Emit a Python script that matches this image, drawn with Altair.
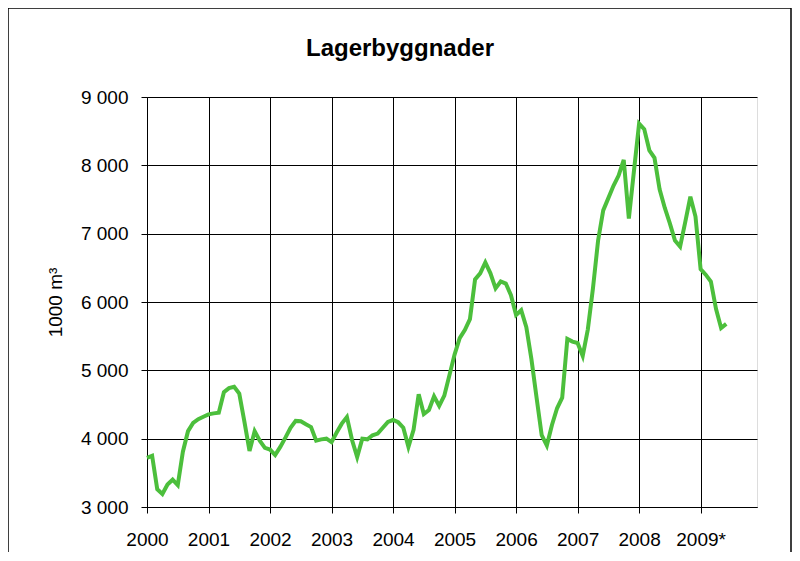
import altair as alt
import pandas as pd

years = [2000, 2001, 2002, 2003, 2004, 2005, 2006, 2007, 2008, 2009]
year_labels = ["2000", "2001", "2002", "2003", "2004", "2005", "2006", "2007", "2008", "2009*"]

v2000 = [3720, 3750, 3260, 3190, 3330, 3400, 3320, 3810, 4110, 4230, 4285, 4320]
v2001 = [4355, 4370, 4380, 4680, 4740, 4760, 4660, 4250, 3820, 4110, 3970, 3865]
v2002 = [3840, 3760, 3880, 4015, 4160, 4260, 4255, 4210, 4170, 3970, 3990, 4000]
v2003 = [3950, 4090, 4220, 4317, 3980, 3730, 4000, 3990, 4050, 4075, 4160, 4245]
v2004 = [4273, 4240, 4160, 3880, 4130, 4650, 4360, 4420, 4620, 4480, 4630, 4930]
v2005 = [5230, 5470, 5590, 5750, 6330, 6420, 6580, 6420, 6200, 6300, 6270, 6100]
v2006 = [5810, 5880, 5630, 5160, 4600, 4050, 3900, 4200, 4445, 4600, 5460, 5420]
v2007 = [5400, 5210, 5600, 6200, 6900, 7340, 7520, 7700, 7850, 8080, 7220, 7920]
v2008 = [8610, 8530, 8220, 8110, 7650, 7380, 7150, 6900, 6810, 7170, 7540, 7250]
v2009 = [6480, 6400, 6300, 5900, 5620, 5680]

y_ticks = [3000, 4000, 5000, 6000, 7000, 8000, 9000]
title_text = "Lagerbyggnader"

series = [v2000, v2001, v2002, v2003, v2004, v2005, v2006, v2007, v2008, v2009]
rows = []
for yr, vals in zip(years, series):
    for m, v in enumerate(vals):
        rows.append({"t": yr + m / 12.0, "v": v})
df = pd.DataFrame(rows)

label_map = "{" + ",".join(f"'{y}':'{l}'" for y, l in zip(years, year_labels)) + "}"

FONT = "Liberation Sans"

x_axis = alt.Axis(
    values=years,
    labelExpr=f"{label_map}[toString(datum.value)]",
    title=None,
    grid=True,
    gridColor="black",
    gridWidth=1,
    tickSize=6,
    tickColor="black",
    domainColor="black",
    labelFont=FONT,
    labelFontSize=19,
    labelColor="black",
    labelPadding=17,
    labelFlush=False,
    labelOverlap=False,
)

y_axis = alt.Axis(
    values=y_ticks,
    labelExpr="replace(format(datum.value, ','), ',', ' ')",
    title="1000 m³",
    titleFont=FONT,
    titleFontSize=19,
    titleFontWeight="normal",
    titleColor="black",
    titleX=-82,
    titleY=205,
    grid=True,
    gridColor="black",
    gridWidth=1,
    tickSize=6,
    tickColor="black",
    domainColor="black",
    labelFont=FONT,
    labelFontSize=19,
    labelColor="black",
    labelPadding=13,
    labelFlush=False,
)

line = alt.Chart(df).mark_line(color="#4CBF3C", strokeWidth=4).encode(
    x=alt.X("t:Q", scale=alt.Scale(domain=[2000, 2009 + 11 / 12.0], nice=False, zero=False), axis=x_axis),
    y=alt.Y("v:Q", scale=alt.Scale(domain=[3000, 9000], nice=False, zero=False), axis=y_axis),
)

border = alt.Chart(pd.DataFrame({"a": [0]})).mark_rect(
    fillOpacity=0, stroke="black", strokeWidth=1.5, clip=False
).encode(
    x=alt.value(-139), x2=alt.value(644), y=alt.value(-89), y2=alt.value(520)
)

title = alt.Chart(pd.DataFrame({"label": [title_text]})).mark_text(
    font=FONT, fontSize=24, fontWeight="bold", color="black",
    align="center", baseline="alphabetic", clip=False
).encode(
    text="label:N", x=alt.value(253), y=alt.value(-41)
)

chart = alt.layer(border, line, title).properties(
    width=610,
    height=410,
    padding={"left": 139, "top": 89, "right": 35, "bottom": 45},
    autosize=alt.AutoSizeParams(type="none"),
).configure_view(stroke="black", strokeWidth=1).configure(background="white")

chart.save("out.html", embed_options={"renderer": "svg", "actions": False})
